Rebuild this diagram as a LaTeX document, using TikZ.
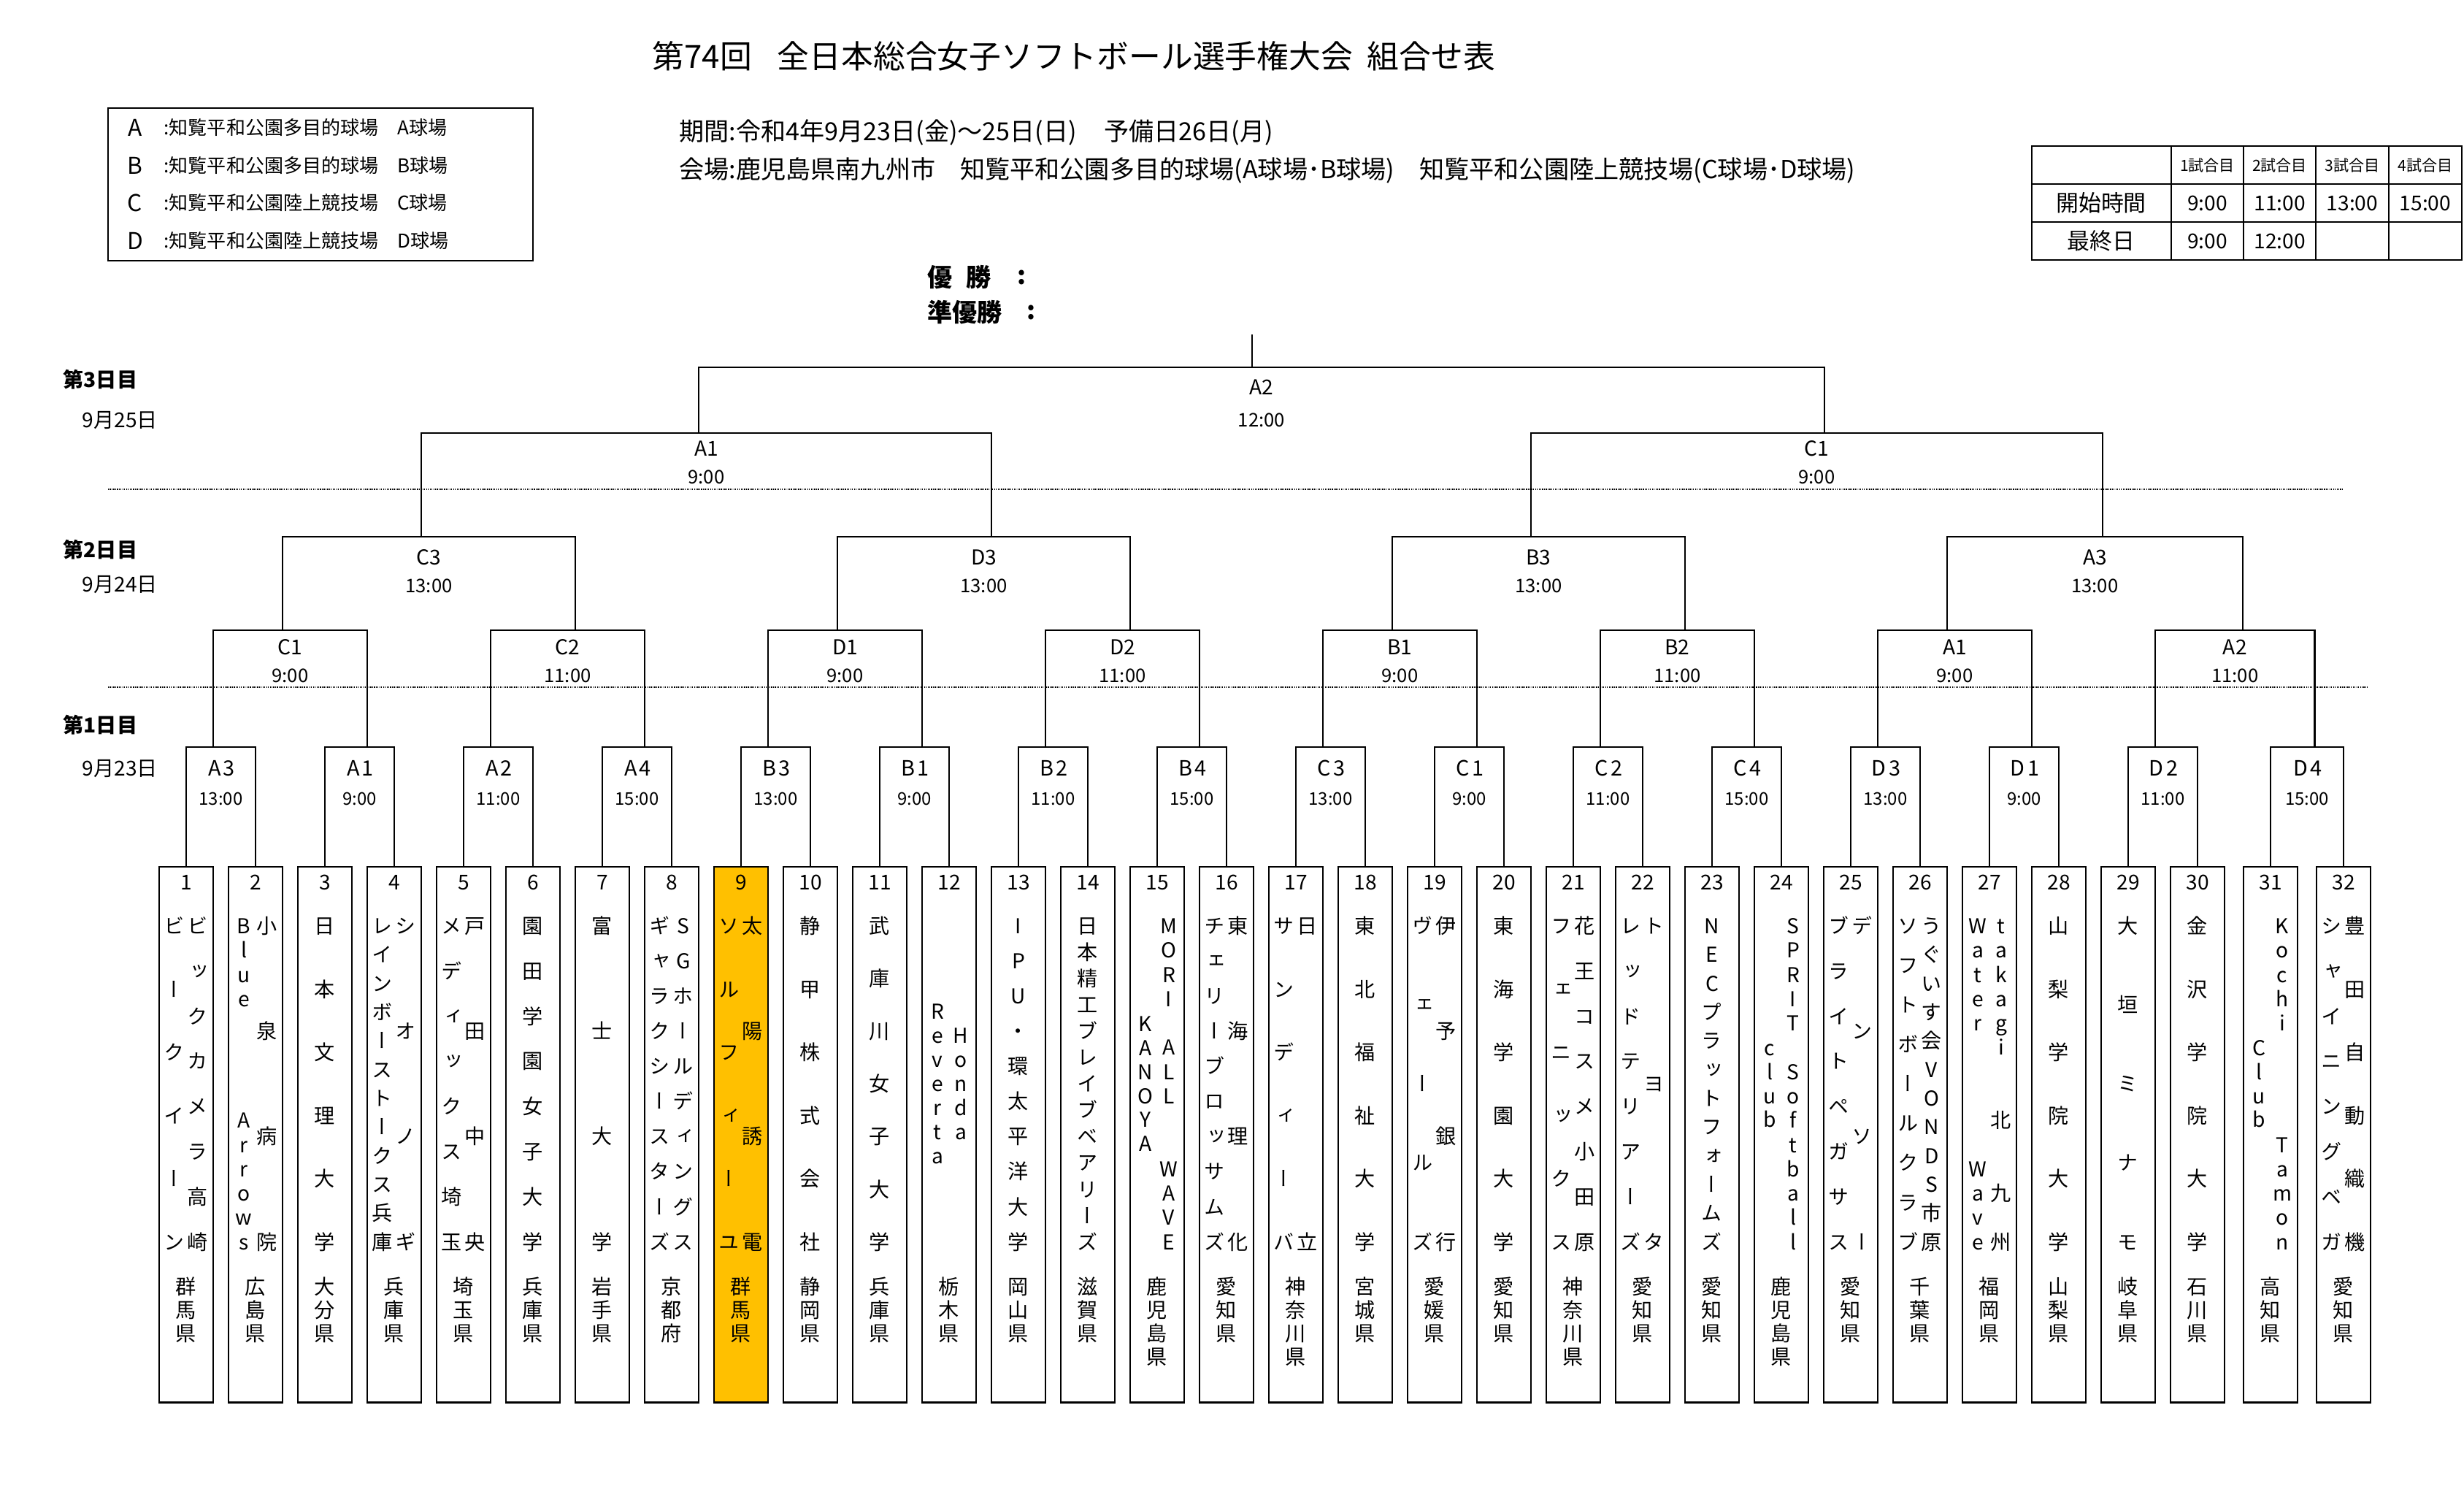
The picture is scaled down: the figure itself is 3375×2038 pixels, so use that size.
\documentclass[tikz,border=0pt]{standalone}
\usepackage{fontspec}
\setmainfont{Noto Sans CJK JP}
\newfontfamily\tatefont[RawFeature=+vert]{Noto Sans CJK JP}
\usetikzlibrary{calc}
\definecolor{sunny}{HTML}{FFC000}

\newcount\tcnt
\newcommand\tatecount[1]{\global\tcnt=0\relax\foreach \chr in {#1}{\global\advance\tcnt by 1\relax}}
% x of the centre of team box #1
\newcommand\teamx[1]{\pgfmathsetmacro\tx{255+95*(#1-1)+5*max(#1-30,0)}}
% team name column, spread over the box: team, tag, x offset, characters
\newcommand\tated[4]{\tatecount{#4}%
  \foreach \chr [count=\i] in {#4}{\teamx{#1}%
    \pgfmathsetmacro\ty{1268+(\i-1)*432.5/(\the\tcnt-1)}%
    \node[ch] (n#1#2-\i) at (\tx+#3,\ty) {\chr};}}
% team name column, centred
\newcommand\tatec[4]{\tatecount{#4}%
  \foreach \chr [count=\i] in {#4}{\teamx{#1}%
    \pgfmathsetmacro\ty{1484+(\i-(\the\tcnt+1)/2)*32.9}%
    \node[ch] (n#1#2-\i) at (\tx+#3,\ty) {\chr};}}
% prefecture
\newcommand\teampref[2]{%
  \foreach \chr [count=\i] in {#2}{\teamx{#1}%
    \node[ch] (p#1-\i) at (\tx,{1762+(\i-1)*31.9}) {\chr};}}
% one round of the bracket: round, previous round, matches, bar y
\newcommand\brround[4]{%
  \foreach \m in {1,...,#3}{%
    \pgfmathtruncatemacro\ia{2*\m-1}%
    \pgfmathtruncatemacro\ib{2*\m}%
    \coordinate (r#1p\m) at ($(r#2m\ia)+(-10.5,0)$);%
    \coordinate (r#1q\m) at ($(r#2m\ib)+(10.5,0)$);%
    \draw[brk] (r#1p\m) -- (r#1p\m |- 0,#4) coordinate (r#1a\m) -- (r#1q\m |- 0,#4) coordinate (r#1b\m) -- (r#1q\m);%
    \coordinate (r#1m\m) at ($(r#1a\m)!0.5!(r#1b\m)$);}}

\begin{document}
\begin{tikzpicture}[x=0.01cm,y=-0.01cm,
  brk/.style={line width=0.6pt},
  dot/.style={line width=0.35pt,dash pattern=on 0.35pt off 0.35pt},
  team/.style={draw,line width=0.6pt,minimum width=0.74cm,minimum height=7.33cm,anchor=north,inner sep=0pt},
  ch/.style={inner sep=0pt,text height=6.6pt,text depth=0.6pt,font=\tatefont\fontsize{8pt}{9pt}\selectfont},
  num/.style={inner sep=0pt,text height=5.9pt,text depth=0pt,font=\fontsize{8pt}{9pt}\selectfont},
  lab/.style={inner sep=0pt,text height=5.9pt,text depth=0pt,font=\fontsize{8pt}{9pt}\selectfont},
  labw/.style={lab,font=\fontsize{8.2pt}{9pt}\selectfont\addfontfeature{LetterSpace=12}},
  tim/.style={inner sep=0pt,text height=5.3pt,text depth=0pt,font=\fontsize{7.3pt}{9pt}\selectfont},
  timw/.style={tim,font=\fontsize{6.8pt}{9pt}\selectfont},
  info/.style={anchor=west,inner sep=0pt,font=\fontsize{9.7pt}{11pt}\selectfont},
  day/.style={anchor=west,inner sep=0pt,font=\bfseries\fontsize{8pt}{9pt}\selectfont},
  date/.style={anchor=west,inner sep=0pt,font=\fontsize{8pt}{9pt}\selectfont},
  win/.style={anchor=west,inner sep=0pt,font=\bfseries\fontsize{9.7pt}{11pt}\selectfont},
  leg/.style={inner sep=0pt,font=\fontsize{9pt}{11pt}\selectfont},
  legt/.style={anchor=west,inner sep=0pt,font=\fontsize{7.4pt}{9pt}\selectfont},
  cell/.style={inner sep=0pt,font=\fontsize{8pt}{9pt}\selectfont},
  cellh/.style={inner sep=0pt,font=\fontsize{6pt}{7pt}\selectfont},
  cellb/.style={inner sep=0pt,font=\fontsize{8.8pt}{10pt}\selectfont}]
\useasboundingbox (0,0) rectangle (3375,2038);

% heading
\node[anchor=west,inner sep=0pt,font=\fontsize{12.45pt}{14pt}\selectfont] (title) at (893,77) {第74回\hspace{0.8em}全日本総合女子ソフトボール選手権大会\hspace{0.45em}組合せ表};
\node[info] (period) at (930,181) {期間:令和4年9月23日(金)～25日(日)\hspace{1.1em}予備日26日(月)};
\node[info] (venue) at (930,233) {会場:鹿児島県南九州市　知覧平和公園多目的球場(A球場･B球場)　知覧平和公園陸上競技場(C球場･D球場)};

% legend
\node[draw,line width=0.6pt,minimum width=5.82cm,minimum height=2.09cm,inner sep=0pt] (legbox) at (439,252.5) {};
\foreach \g/\yy/\place in {A/175/多目的球場,B/227/多目的球場,C/278/陸上競技場,D/330/陸上競技場}{
  \node[leg] (leg\g) at (185,\yy) {\g};
  \node[legt] (leg\g t) at (224,\yy) {:知覧平和公園\place{}　\g{}球場};
}

% time table
\draw[brk] (2783,200) rectangle (3372,356);
\foreach \yy in {252,304} \draw[brk] (2783,\yy) -- (3372,\yy);
\foreach \xx in {2974,3073,3172,3272} \draw[brk] (\xx,200) -- (\xx,356);
\foreach \j/\xx in {1/3023.5,2/3122.5,3/3222,4/3322} \node[cellh] (hd\j) at (\xx,226) {\j{}試合目};
\node[cellb] (start) at (2878,278) {開始時間};
\foreach \j/\xx/\hr in {1/3023.5/9:00,2/3122.5/11:00,3/3222/13:00,4/3322/15:00} \node[cell] (start\j) at (\xx,278) {\hr};
\node[cellb] (last) at (2878,330) {最終日};
\foreach \j/\xx/\hr in {1/3023.5/9:00,2/3122.5/12:00} \node[cell] (last\j) at (\xx,330) {\hr};

% winners
\node[win] (champ) at (1270,380) {優\hspace{0.55em}勝};
\node[win] (champc) at (1393,380) {:};
\node[win] (second) at (1270,428) {準優勝};
\node[win] (secondc) at (1406,428) {:};

% days
\node[day] (day3) at (86,520) {第3日目};
\node[date] (date3) at (112,576) {9月25日};
\node[day] (day2) at (86,753) {第2日目};
\node[date] (date2) at (112,801) {9月24日};
\node[day] (day1) at (86,993) {第1日目};
\node[date] (date1) at (112,1053) {9月23日};
\draw[dot] (148,670) -- (3208,670);
\draw[dot] (148,941) -- (3243,941);

% team boxes
\foreach \tn in {1,...,32}{
  \teamx{\tn}
  \ifnum\tn=9 \node[team,fill=sunny] (tm\tn) at (\tx,1186) {};
  \else \node[team] (tm\tn) at (\tx,1186) {};\fi
  \node[num] (no\tn) at (\tx,1208) {\tn};
}

% first round
\foreach \m in {1,...,16}{
  \pgfmathtruncatemacro\ia{2*\m-1}
  \pgfmathtruncatemacro\ib{2*\m}
  \draw[brk] (tm\ia.north) -- (tm\ia.north |- 0,1023) coordinate (r1a\m) -- (tm\ib.north |- 0,1023) coordinate (r1b\m) -- (tm\ib.north);
  \coordinate (r1m\m) at ($(r1a\m)!0.5!(r1b\m)$);
}
\brround{2}{1}{8}{863}
\brround{3}{2}{4}{735}
\brround{4}{3}{2}{593}
\brround{5}{4}{1}{503}
\coordinate (top) at (1715,458);
\draw[brk] (top) -- (top |- r5a1);

% match labels
\foreach \m/\mlab/\mtime in {1/A3/13:00,2/A1/9:00,3/A2/11:00,4/A4/15:00,5/B3/13:00,6/B1/9:00,7/B2/11:00,8/B4/15:00,9/C3/13:00,10/C1/9:00,11/C2/11:00,12/C4/15:00,13/D3/13:00,14/D1/9:00,15/D2/11:00,16/D4/15:00}{
  \node[labw] (r1l\m) at ($(r1m\m)+(1,29)$) {\mlab};
  \node[timw] (r1t\m) at ($(r1m\m)+(0,70)$) {\mtime};
}
\foreach \m/\mlab/\mtime in {1/C1/9:00,2/C2/11:00,3/D1/9:00,4/D2/11:00,5/B1/9:00,6/B2/11:00,7/A1/9:00,8/A2/11:00}{
  \node[lab] (r2l\m) at ($(r2m\m)+(0,23)$) {\mlab};
  \node[tim] (r2t\m) at ($(r2m\m)+(0,62)$) {\mtime};
}
\foreach \m/\mlab/\mtime in {1/C3/13:00,2/D3/13:00,3/B3/13:00,4/A3/13:00}{
  \node[lab] (r3l\m) at ($(r3m\m)+(0,28)$) {\mlab};
  \node[tim] (r3t\m) at ($(r3m\m)+(0,67)$) {\mtime};
}
\foreach \m/\mlab/\mtime in {1/A1/9:00,2/C1/9:00}{
  \node[lab] (r4l\m) at ($(r4m\m)+(0,21)$) {\mlab};
  \node[tim] (r4t\m) at ($(r4m\m)+(0,60)$) {\mtime};
}
\node[lab] (r5l1) at ($(r5m1)+(0,27)$) {A2};
\node[tim] (r5t1) at ($(r5m1)+(0,72)$) {12:00};

% team names
\tated{1}{r}{16}{ビ,ッ,ク,カ,メ,ラ,高,崎}
\tated{1}{l}{-16}{ビ,ー,ク,イ,ー,ン}
\teampref{1}{群,馬,県}
\tated{2}{r}{16}{小,泉,病,院}
\tated{2}{l}{-16}{B,l,u,e,{},{},{},{},A,r,r,o,w,s}
\teampref{2}{広,島,県}
\tated{3}{m}{0}{日,本,文,理,大,学}
\teampref{3}{大,分,県}
\tated{4}{r}{16}{シ,オ,ノ,ギ}
\tated{4}{l}{-16}{レ,イ,ン,ボ,ー,ス,ト,ー,ク,ス,兵,庫}
\teampref{4}{兵,庫,県}
\tated{5}{r}{16}{戸,田,中,央}
\tated{5}{l}{-16}{メ,デ,ィ,ッ,ク,ス,埼,玉}
\teampref{5}{埼,玉,県}
\tated{6}{m}{0}{園,田,学,園,女,子,大,学}
\teampref{6}{兵,庫,県}
\tated{7}{m}{0}{富,士,大,学}
\teampref{7}{岩,手,県}
\tated{8}{r}{16}{S,G,ホ,ー,ル,デ,ィ,ン,グ,ス}
\tated{8}{l}{-16}{ギ,ャ,ラ,ク,シ,ー,ス,タ,ー,ズ}
\teampref{8}{京,都,府}
\tated{9}{r}{16}{太,陽,誘,電}
\tated{9}{l}{-16}{ソ,ル,フ,ィ,ー,ユ}
\teampref{9}{群,馬,県}
\tated{10}{m}{0}{静,甲,株,式,会,社}
\teampref{10}{静,岡,県}
\tated{11}{m}{0}{武,庫,川,女,子,大,学}
\teampref{11}{兵,庫,県}
\tatec{12}{r}{16}{H,o,n,d,a}
\tatec{12}{l}{-16}{R,e,v,e,r,t,a}
\teampref{12}{栃,木,県}
\tated{13}{m}{0}{I,P,U,・,環,太,平,洋,大,学}
\teampref{13}{岡,山,県}
\tated{14}{m}{0}{日,本,精,工,ブ,レ,イ,ブ,ベ,ア,リ,ー,ズ}
\teampref{14}{滋,賀,県}
\tated{15}{r}{16}{M,O,R,I,{},A,L,L,{},{},W,A,V,E}
\tatec{15}{l}{-16}{K,A,N,O,Y,A}
\teampref{15}{鹿,児,島,県}
\tated{16}{r}{16}{東,海,理,化}
\tated{16}{l}{-16}{チ,ェ,リ,ー,ブ,ロ,ッ,サ,ム,ズ}
\teampref{16}{愛,知,県}
\tated{17}{r}{16}{日,立}
\tated{17}{l}{-16}{サ,ン,デ,ィ,ー,バ}
\teampref{17}{神,奈,川,県}
\tated{18}{m}{0}{東,北,福,祉,大,学}
\teampref{18}{宮,城,県}
\tated{19}{r}{16}{伊,予,銀,行}
\tated{19}{l}{-16}{ヴ,ェ,ー,ル,ズ}
\teampref{19}{愛,媛,県}
\tated{20}{m}{0}{東,海,学,園,大,学}
\teampref{20}{愛,知,県}
\tated{21}{r}{16}{花,王,コ,ス,メ,小,田,原}
\tated{21}{l}{-16}{フ,ェ,ニ,ッ,ク,ス}
\teampref{21}{神,奈,川,県}
\tated{22}{r}{16}{ト,ヨ,タ}
\tated{22}{l}{-16}{レ,ッ,ド,テ,リ,ア,ー,ズ}
\teampref{22}{愛,知,県}
\tated{23}{m}{0}{N,E,C,プ,ラ,ッ,ト,フ,ォ,ー,ム,ズ}
\teampref{23}{愛,知,県}
\tated{24}{r}{16}{S,P,R,I,T,{},S,o,f,t,b,a,l,l}
\tatec{24}{l}{-16}{c,l,u,b}
\teampref{24}{鹿,児,島,県}
\tated{25}{r}{16}{デ,ン,ソ,ー}
\tated{25}{l}{-16}{ブ,ラ,イ,ト,ペ,ガ,サ,ス}
\teampref{25}{愛,知,県}
\tated{26}{r}{16}{う,ぐ,い,す,会,V,O,N,D,S,市,原}
\tated{26}{l}{-16}{ソ,フ,ト,ボ,ー,ル,ク,ラ,ブ}
\teampref{26}{千,葉,県}
\tated{27}{r}{16}{t,a,k,a,g,i,{},{},北,{},{},九,{},州}
\tated{27}{l}{-16}{W,a,t,e,r,{},{},{},{},{},W,a,v,e}
\teampref{27}{福,岡,県}
\tated{28}{m}{0}{山,梨,学,院,大,学}
\teampref{28}{山,梨,県}
\tated{29}{m}{0}{大,垣,ミ,ナ,モ}
\teampref{29}{岐,阜,県}
\tated{30}{m}{0}{金,沢,学,院,大,学}
\teampref{30}{石,川,県}
\tated{31}{r}{16}{K,o,c,h,i,{},{},{},{},T,a,m,o,n}
\tatec{31}{l}{-16}{C,l,u,b}
\teampref{31}{高,知,県}
\tated{32}{r}{16}{豊,田,自,動,織,機}
\tated{32}{l}{-16}{シ,ャ,イ,ニ,ン,グ,ベ,ガ}
\teampref{32}{愛,知,県}
\end{tikzpicture}
\end{document}
